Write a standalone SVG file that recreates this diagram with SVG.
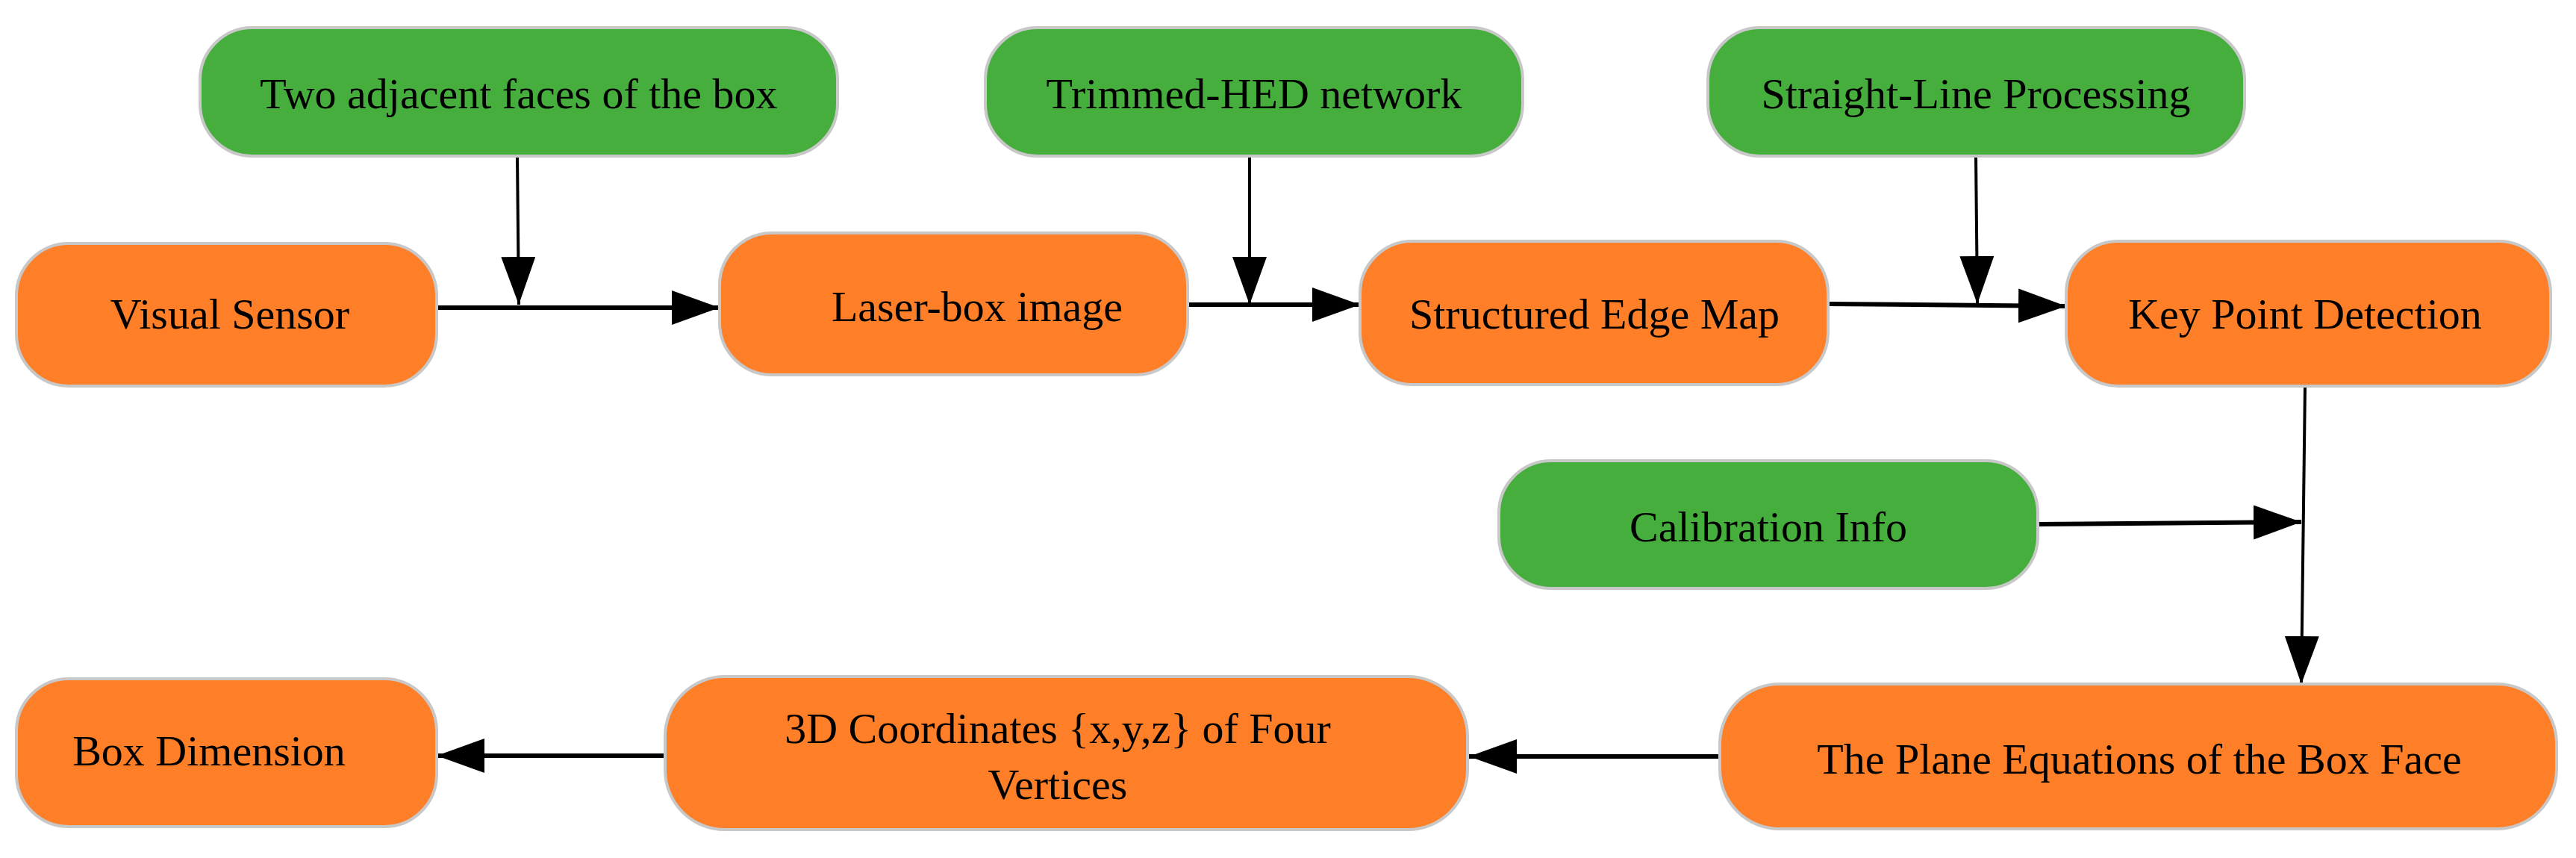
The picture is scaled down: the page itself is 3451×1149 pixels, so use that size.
<svg xmlns="http://www.w3.org/2000/svg" width="3451" height="1149" viewBox="0 0 3451 1149">
<style>
.g{fill:#45AE3C;stroke:#C8C8C8;stroke-width:4}
.o{fill:#FE7F27;stroke:#C8C8C8;stroke-width:4}
text{font-family:"Liberation Serif","Times New Roman",serif;font-size:58px;fill:#000;text-anchor:middle;dominant-baseline:central}
.e{stroke:#000;fill:none}
.t{stroke-width:6}
.n{stroke-width:4}
</style>
<defs>
<marker id="a" markerUnits="userSpaceOnUse" markerWidth="66" markerHeight="46" refX="64" refY="23" orient="auto"><path d="M0,0L64,23L0,46Z" fill="#000"/></marker>
</defs>
<rect width="3451" height="1149" fill="#fff"/>
<g id="edges">
<path class="e t" d="M585,412H964" marker-end="url(#a)"/>
<path class="e n" d="M693,209L695,408" marker-end="url(#a)"/>
<path class="e t" d="M1591,408H1822" marker-end="url(#a)"/>
<path class="e n" d="M1674,209V408" marker-end="url(#a)"/>
<path class="e t" d="M2449,407L2768,410" marker-end="url(#a)"/>
<path class="e n" d="M2647,209L2649,407" marker-end="url(#a)"/>
<path class="e n" d="M3088,517L3083,916" marker-end="url(#a)"/>
<path class="e t" d="M2730,702L3083,699" marker-end="url(#a)"/>
<path class="e t" d="M2304,1013H1968" marker-end="url(#a)"/>
<path class="e t" d="M891,1012H585" marker-end="url(#a)"/>
</g>
<g id="n1"><rect class="g" x="268" y="37" width="854" height="172" rx="70"/><text x="695" y="125">Two adjacent faces of the box</text></g>
<g id="n2"><rect class="g" x="1320" y="37" width="720" height="172" rx="70"/><text x="1680" y="125">Trimmed-HED network</text></g>
<g id="n3"><rect class="g" x="2288" y="37" width="719" height="172" rx="70"/><text x="2647" y="125">Straight-Line Processing</text></g>
<g id="n4"><rect class="o" x="22" y="326" width="563" height="191" rx="70"/><text x="308" y="420">Visual Sensor</text></g>
<g id="n5"><rect class="o" x="964" y="312" width="627" height="190" rx="70"/><text x="1309" y="410">Laser-box image</text></g>
<g id="n6"><rect class="o" x="1822" y="323" width="627" height="192" rx="70"/><text x="2136" y="420">Structured Edge Map</text></g>
<g id="n7"><rect class="o" x="2768" y="323" width="649" height="194" rx="70"/><text x="3088" y="420">Key Point Detection</text></g>
<g id="n8"><rect class="g" x="2008" y="617" width="722" height="171" rx="70"/><text x="2369" y="705">Calibration Info</text></g>
<g id="n9"><rect class="o" x="2304" y="916" width="1121" height="194" rx="80"/><text x="2866" y="1016">The Plane Equations of the Box Face</text></g>
<g id="n10"><rect class="o" x="891" y="906" width="1075" height="205" rx="80"/><text x="1417" y="975">3D Coordinates {x,y,z} of  Four</text><text x="1417" y="1050">Vertices</text></g>
<g id="n11"><rect class="o" x="22" y="909" width="563" height="198" rx="70"/><text x="280" y="1005">Box Dimension</text></g>
</svg>
